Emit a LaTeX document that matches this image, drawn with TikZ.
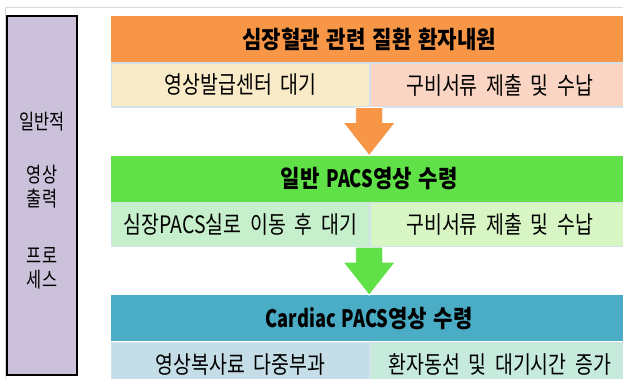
\documentclass[tikz,border=0pt]{standalone}
\usepackage{fontspec}
\newfontfamily\krbody[FakeStretch=0.81,WordSpace=2]{Noto Sans CJK KR}
\newfontfamily\krhead[FakeStretch=0.88,WordSpace=1.4]{Noto Sans CJK KR}
\newfontfamily\krside[FakeStretch=0.78,WordSpace=2]{Noto Sans CJK KR}
\newfontfamily\lathead[FakeStretch=0.76,WordSpace=1.4]{Noto Sans CJK KR}
\newcommand{\hlat}[1]{{\lathead\bfseries\fontsize{24}{26}\selectfont #1}}
\usepackage{tikz}
\usetikzlibrary{positioning,calc}
\definecolor{Frame}{HTML}{D9D9D9}
\definecolor{Lavender}{HTML}{CCC1DA}
\definecolor{Orange}{HTML}{F79646}
\definecolor{Lime}{HTML}{61E148}
\definecolor{Sea}{HTML}{4BACC6}
\definecolor{Edge}{HTML}{D3E1EA}
\definecolor{Cream}{HTML}{FAEBC8}
\definecolor{Peach}{HTML}{FBD5C3}
\definecolor{Mint}{HTML}{C6EFCB}
\definecolor{Sprout}{HTML}{D8F5C4}
\definecolor{Sky}{HTML}{C5DDE7}
\definecolor{Aqua}{HTML}{C6EBDD}
\tikzset{
  frameline/.style={draw=Frame,line width=1pt},
  side/.style={rectangle,draw=black,line width=1.6pt,fill=Lavender,minimum width=70pt,minimum height=359pt,inner sep=0pt},
  sidetext/.style={align=center,inner sep=0pt,font=\krside\fontsize{21}{24}\selectfont},
  hdr/.style={rectangle,minimum width=516pt,minimum height=46pt,inner sep=0pt,font=\krhead\bfseries\fontsize{24}{26}\selectfont},
  cell/.style={rectangle,draw=Edge,line width=1.2pt,minimum width=258pt,minimum height=44pt,inner sep=0pt,font=\krbody\fontsize{24}{26}\selectfont},
  blockarrow/.style={draw=white,line width=.8pt,line join=miter}
}
% block arrow from a row cell down to the next header
\newcommand{\flowarrow}[3]{%
  \filldraw[blockarrow,fill=#3] let \p1=(#1), \p2=(#2) in
    (\x2-13.5pt,\y1) -- (\x2+13.5pt,\y1) -- (\x2+13.5pt,\y1-15pt) -- (\x2+26pt,\y1-15pt)
    -- (\x2,\y2) -- (\x2-26pt,\y1-15pt) -- (\x2-13.5pt,\y1-15pt) -- cycle;}

\begin{document}
\begin{tikzpicture}[x=1pt,y=-1pt]
  \useasboundingbox (0,0) rectangle (623,379);
  \draw[frameline] (5,380) -- (5,8) -- (624,8);

  \node[side] (side) at (42,195.5) {};
  \node[sidetext] (sidelabel) at ($(side.center)+(0,5)$) {일반적\\[29pt]영상\\출력\\[33pt]프로\\세스};

  % step 1
  \node[hdr,fill=Orange,anchor=north west] (hdr1) at (111,16) {심장혈관 관련 질환 환자내원};
  \node[cell,fill=Cream,below right=0pt and 0pt of hdr1.south west] (wait1) {영상발급센터 대기};
  \node[cell,fill=Peach,right=0pt of wait1] (pay1) {구비서류 제출 및 수납};

  % step 2
  \node[hdr,fill=Lime,below right=48pt and 0pt of wait1.south west] (hdr2) {일반 \hlat{PACS}영상 수령};
  \node[cell,fill=Mint,below right=0pt and 0pt of hdr2.south west] (wait2) {심장PACS실로 이동 후 대기};
  \node[cell,fill=Sprout,right=0pt of wait2] (pay2) {구비서류 제출 및 수납};

  % step 3
  \node[hdr,fill=Sea,below right=48pt and 0pt of wait2.south west] (hdr3) {\hlat{Cardiac PACS}영상 수령};
  \node[cell,fill=Sky,below right=0pt and 0pt of hdr3.south west] (cost3) {영상복사료 다중부과};
  \node[cell,fill=Aqua,right=0pt of cost3] (time3) {환자동선 및 대기시간 증가};

  \flowarrow{wait1.south east}{hdr2.north}{Orange}
  \flowarrow{wait2.south east}{hdr3.north}{Lime}
\end{tikzpicture}
\end{document}
